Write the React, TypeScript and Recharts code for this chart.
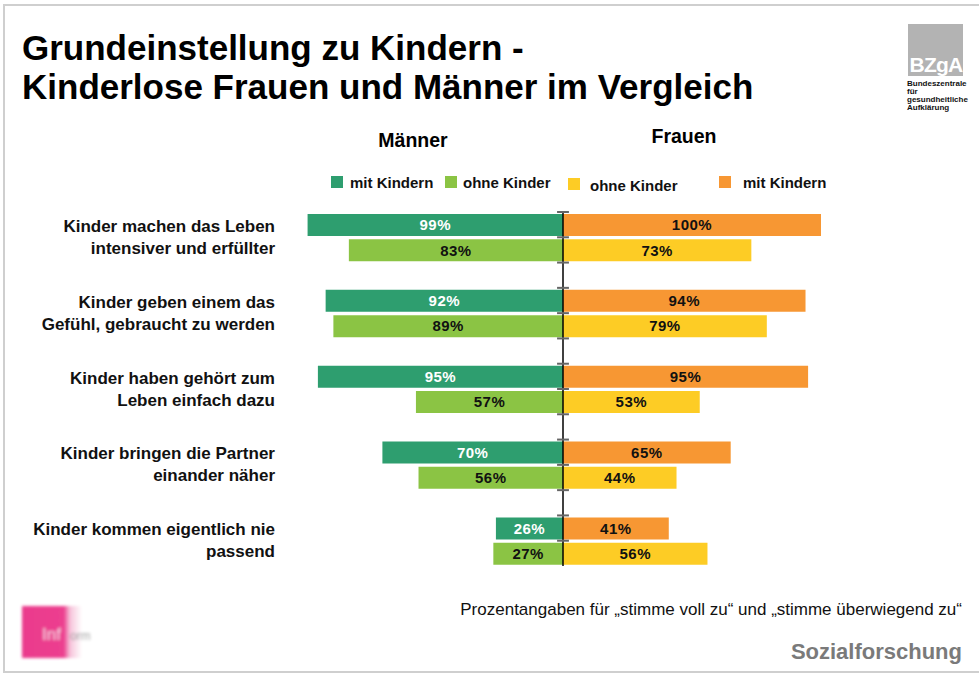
import { BarChart, Bar, XAxis, YAxis, LabelList, ReferenceLine } from "recharts";

const categories = [
  ["Kinder machen das Leben", "intensiver und erfüllter"],
  ["Kinder geben einem das", "Gefühl, gebraucht zu werden"],
  ["Kinder haben gehört zum", "Leben einfach dazu"],
  ["Kinder bringen die Partner", "einander näher"],
  ["Kinder kommen eigentlich nie", "passend"],
];
const menWithKids = [99, 92, 95, 70, 26];
const menNoKids = [83, 89, 57, 56, 27];
const womenNoKids = [73, 79, 53, 44, 56];
const womenWithKids = [100, 94, 95, 65, 41];

const legendItems = [
  { label: "mit Kindern", color: "#2e9e6f" },
  { label: "ohne Kinder", color: "#8bc444" },
  { label: "ohne Kinder", color: "#fdcc25" },
  { label: "mit Kindern", color: "#f79733" },
];

type Row = {
  id: string;
  label?: string[];
  menMit?: number;
  menOhne?: number;
  womenMit?: number;
  womenOhne?: number;
};

// three rows per statement: mit Kindern, ohne Kinder, gap
const rows: Row[] = categories.flatMap((label, i) => {
  const r: Row[] = [
    { id: `${i}-mit`, label, menMit: -menWithKids[i], womenMit: womenWithKids[i] },
    { id: `${i}-ohne`, menOhne: -menNoKids[i], womenOhne: womenNoKids[i] },
  ];
  if (i < categories.length - 1) r.push({ id: `${i}-gap` });
  return r;
});

const FONT = '"Liberation Sans", Arial, Helvetica, sans-serif';
const PLOT_TOP = 212;
const PLOT_H = 354;
const BAND = PLOT_H / rows.length;

const fmt = (v: any) => (v == null || v === 0 ? "" : `${Math.abs(Number(v))}%`);

const labelStyle = {
  fontFamily: FONT,
  fontWeight: "bold",
  fontSize: 15,
  letterSpacing: 0.5,
};

function CategoryTick(props: any) {
  const { x, y, payload } = props;
  const row = rows[payload.index];
  if (!row || !row.label) return <g />;
  const cy = y + BAND / 2;
  return (
    <text
      textAnchor="end"
      fontFamily={FONT}
      fontWeight="bold"
      fontSize={17}
      fill="#111"
    >
      <tspan x={x} y={cy - 11} dominantBaseline="central">
        {row.label[0]}
      </tspan>
      <tspan x={x} y={cy + 11} dominantBaseline="central">
        {row.label[1]}
      </tspan>
    </text>
  );
}

export default function App() {
  return (
    <div
      style={{
        position: "relative",
        width: 979,
        height: 677,
        overflow: "hidden",
        background: "#fff",
        fontFamily: FONT,
      }}
    >
      <style>{`body{margin:0}`}</style>
      <div
        style={{
          position: "absolute",
          left: 3,
          top: 4,
          width: 1000,
          height: 669,
          border: "2px solid #cfcfcf",
          boxSizing: "border-box",
        }}
      />
      <svg
        width={979}
        height={677}
        style={{ position: "absolute", left: 0, top: 0 }}
      >
        <g fontFamily={FONT} fontWeight="bold" fill="#000">
          <text x={22} y={47} fontSize={35} dominantBaseline="central">
            Grundeinstellung zu Kindern -
          </text>
          <text x={22} y={86} fontSize={35} dominantBaseline="central">
            Kinderlose Frauen und Männer im Vergleich
          </text>
          <text x={413} y={140} fontSize={19.5} textAnchor="middle" dominantBaseline="central">
            Männer
          </text>
          <text x={684} y={136} fontSize={19.5} textAnchor="middle" dominantBaseline="central">
            Frauen
          </text>
        </g>
        {/* legend */}
        {legendItems.map((it, i) => {
          const sx = [331, 445, 568, 719][i];
          const tx = [350, 463, 590, 743][i];
          const cy = i === 2 ? 184 : 182;
          return (
            <g key={i}>
              <rect x={sx} y={cy - 6} width={12} height={12} fill={it.color} />
              <text
                x={tx}
                y={cy + (i === 2 ? 1 : 0)}
                fontFamily={FONT}
                fontWeight="bold"
                fontSize={15}
                dominantBaseline="central"
                fill="#111"
              >
                {it.label}
              </text>
            </g>
          );
        })}
        {/* BZgA logo */}
        <rect x={908} y={24} width={55} height={52} fill="#b3b3b3" />
        <text
          x={936}
          y={64}
          fontFamily={FONT}
          fontWeight="bold"
          fontSize={21}
          fill="#fff"
          textAnchor="middle"
          dominantBaseline="central"
          letterSpacing={-0.8}
        >
          BZgA
        </text>
        <g fontFamily={FONT} fontWeight="bold" fontSize={8} fill="#111">
          <text x={907} y={86}>Bundeszentrale</text>
          <text x={907} y={94}>für</text>
          <text x={907} y={102}>gesundheitliche</text>
          <text x={907} y={110}>Aufklärung</text>
        </g>
        {/* bottom-left logo */}
        <defs>
          <linearGradient id="pink" x1="0" x2="1" y1="0" y2="0">
            <stop offset="0" stopColor="#ea3a8c" />
            <stop offset="0.42" stopColor="#ec3f8f" />
            <stop offset="0.48" stopColor="#f6c3da" />
            <stop offset="0.6" stopColor="#ffffff" />
          </linearGradient>
          <filter id="blur">
            <feGaussianBlur stdDeviation="1.6" />
          </filter>
        </defs>
        <g filter="url(#blur)">
          <rect x={22} y={606} width={100} height={52} fill="url(#pink)" />
          <text x={42} y={640} fontFamily={FONT} fontSize={17} fill="#f4d0e2">
            Inf
          </text>
          <text x={70} y={640} fontFamily={FONT} fontSize={12} fill="#9a9a9a">
            orm
          </text>
        </g>
        {/* footer */}
        <text
          x={962}
          y={609}
          fontFamily={FONT}
          fontSize={17}
          textAnchor="end"
          dominantBaseline="central"
          fill="#111"
        >
          Prozentangaben für „stimme voll zu“ und „stimme überwiegend zu“
        </text>
        <text
          x={962}
          y={651}
          fontFamily={FONT}
          fontWeight="bold"
          fontSize={22}
          textAnchor="end"
          dominantBaseline="central"
          fill="#7a7a7a"
        >
          Sozialforschung
        </text>
      </svg>
      <div style={{ position: "absolute", left: 0, top: 0 }}>
        <BarChart
          width={979}
          height={677}
          data={rows}
          layout="vertical"
          stackOffset="sign"
          margin={{ top: PLOT_TOP, bottom: 677 - PLOT_TOP - PLOT_H, left: 0, right: 158 }}
        >
          <XAxis type="number" domain={[-100, 100]} hide />
          <YAxis
            type="category"
            dataKey="id"
            width={305}
            axisLine={false}
            tickLine={false}
            tickSize={0}
            tickMargin={30}
            interval={0}
            tick={<CategoryTick />}
          />
          <Bar dataKey="menMit" stackId="s" fill="#2e9e6f" barSize={22} isAnimationActive={false}>
            <LabelList dataKey="menMit" position="center" formatter={fmt} fill="#fff" style={labelStyle} />
          </Bar>
          <Bar dataKey="menOhne" stackId="s" fill="#8bc444" barSize={22} isAnimationActive={false}>
            <LabelList dataKey="menOhne" position="center" formatter={fmt} fill="#111" style={labelStyle} />
          </Bar>
          <Bar dataKey="womenMit" stackId="s" fill="#f79733" barSize={22} isAnimationActive={false}>
            <LabelList dataKey="womenMit" position="center" formatter={fmt} fill="#111" style={labelStyle} />
          </Bar>
          <Bar dataKey="womenOhne" stackId="s" fill="#fdcc25" barSize={22} isAnimationActive={false}>
            <LabelList dataKey="womenOhne" position="center" formatter={fmt} fill="#111" style={labelStyle} />
          </Bar>
          <ReferenceLine x={0} stroke="#000" strokeWidth={1.5} />
          {rows.map((r) => (
            <ReferenceLine
              key={r.id}
              position="start"
              segment={[
                { x: -2.3, y: r.id },
                { x: 2.3, y: r.id },
              ]}
              stroke="#666"
              strokeWidth={2}
            />
          ))}
          <ReferenceLine
            position="end"
            segment={[
              { x: -2.3, y: rows[rows.length - 1].id },
              { x: 2.3, y: rows[rows.length - 1].id },
            ]}
            stroke="#666"
            strokeWidth={2}
          />
        </BarChart>
      </div>
    </div>
  );
}
